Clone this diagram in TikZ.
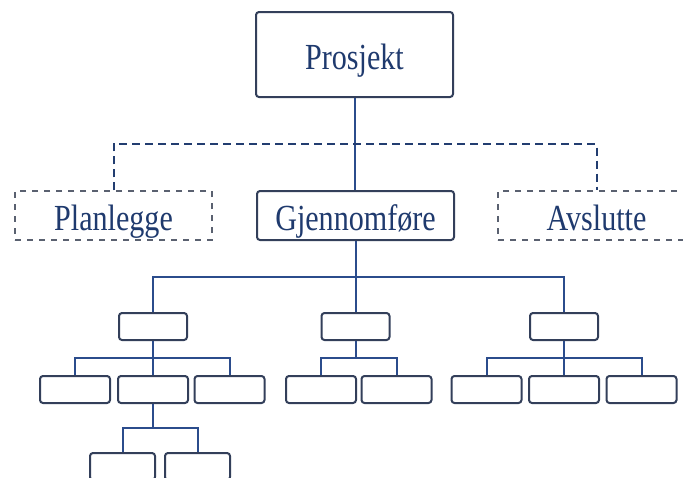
\documentclass[tikz,border=0pt]{standalone}
\usepackage{graphicx}
\usepackage{fontspec}
\setmainfont{Liberation Serif}
\usetikzlibrary{positioning}
\definecolor{navy}{HTML}{1F3A6E}
\definecolor{boxline}{HTML}{333F5A}
\definecolor{wire}{HTML}{2B4C8C}
\definecolor{dashline}{HTML}{5A6170}
\newcommand{\boxtext}[1]{\scalebox{0.86}[1.05]{#1}}

\begin{document}
\begin{tikzpicture}[x=0.5pt,y=-0.5pt,
	box/.style={draw=boxline,line width=1pt,rounded corners=1.5pt,fill=white,inner sep=0pt,text=navy,font=\fontsize{17.5}{20}\selectfont},
	mainbox/.style={box,minimum width=98.5pt,minimum height=24.5pt,text height=15pt,text depth=0pt},
	dashbox/.style={mainbox,draw=dashline,line width=0.7pt,dashed,rounded corners=0pt},
	smallbox/.style={box,minimum width=34pt,minimum height=13.5pt},
	wirestyle/.style={draw=wire,line width=1pt},
	dashwire/.style={draw=wire!80!black,line width=1pt,dash pattern=on 4pt off 2.5pt}]
	\useasboundingbox (0,0) rectangle (683,477);
	\node[mainbox,minimum height=42.5pt] (prosjekt) at (354.5,54.5) {\boxtext{Prosjekt}};
	\node[dashbox] (planlegge) at (113.5,215.5) {\boxtext{Planlegge}};
	\node[mainbox] (gjennom) at (355.5,215.5) {\boxtext{Gjennomføre}};
	\node[dashbox] (avslutte) at (596.5,215.5) {\boxtext{Avslutte}};
	\coordinate (fasebar) at (354.5,144);
	\draw[wirestyle] (prosjekt.south) -- (prosjekt.south |- gjennom.north);
	\draw[dashwire] (planlegge.north) |- (fasebar) -| (avslutte.north);
	\node[smallbox] (a) at (153,326.5) {};
	\node[smallbox] (b) at (355.5,326.5) {};
	\node[smallbox] (c) at (564,326.5) {};
	\coordinate (bus) at (355.5,277);
	\draw[wirestyle] (gjennom.south) -- (bus);
	\draw[wirestyle] (bus) -| (a.north);
	\draw[wirestyle] (bus) -| (c.north);
	\draw[wirestyle] (bus) -- (b.north);
	\node[smallbox,minimum width=35pt] (a1) at (75,389.5) {};
	\node[smallbox,minimum width=35pt] (a2) at (153,389.5) {};
	\node[smallbox,minimum width=35pt] (a3) at (229.5,389.5) {};
	\node[smallbox,minimum width=35pt] (b1) at (321,389.5) {};
	\node[smallbox,minimum width=35pt] (b2) at (396.5,389.5) {};
	\node[smallbox,minimum width=35pt] (c1) at (486.5,389.5) {};
	\node[smallbox,minimum width=35pt] (c2) at (564,389.5) {};
	\node[smallbox,minimum width=35pt] (c3) at (641.5,389.5) {};
	\coordinate (abus) at (153,358);
	\coordinate (bbus) at (355.5,358);
	\coordinate (cbus) at (564,358);
	\draw[wirestyle] (a.south) -- (abus) (abus) -| (a1.north) (abus) -| (a3.north) (abus) -- (a2.north);
	\draw[wirestyle] (b.south) -- (bbus) (bbus) -| (b1.north) (bbus) -| (b2.north);
	\draw[wirestyle] (c.south) -- (cbus) (cbus) -| (c1.north) (cbus) -| (c3.north) (cbus) -- (c2.north);
	\node[smallbox,minimum width=32.5pt] (d1) at (122.5,466.5) {};
	\node[smallbox,minimum width=32.5pt] (d2) at (197.5,466.5) {};
	\coordinate (dbus) at (153,428);
	\draw[wirestyle] (a2.south) -- (dbus) (dbus) -| (d1.north) (dbus) -| (d2.north);
\end{tikzpicture}
\end{document}
